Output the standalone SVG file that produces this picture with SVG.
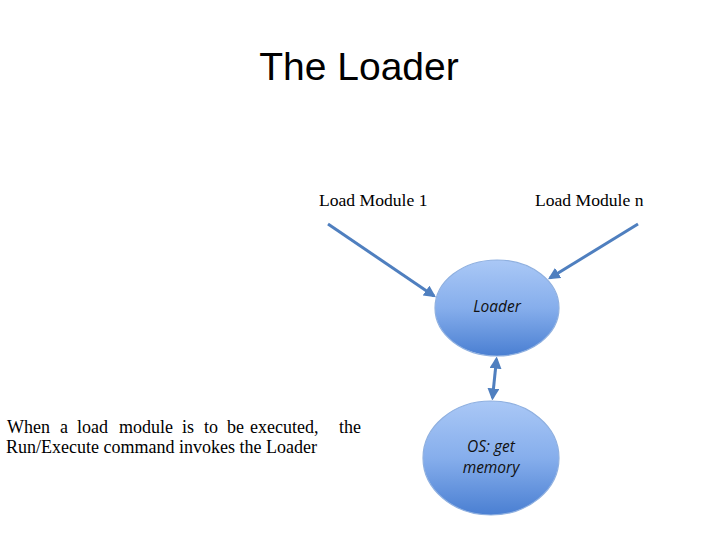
<svg xmlns="http://www.w3.org/2000/svg" width="720" height="540" viewBox="0 0 720 540">
<style>
.title{font-family:"Liberation Sans",Arial,sans-serif;font-size:39px;fill:#000}
.tnr{font-family:"Liberation Serif","Times New Roman",serif;font-size:17.6px;fill:#000}
.desc{font-size:18px}
.lbl{font-family:"Open Sans","Liberation Sans",sans-serif;font-size:15.5px;font-style:italic;fill:#111}
.node{fill:url(#g);stroke:#8fb0e0;stroke-width:1.2}
.conn{stroke:#4f7fbf;stroke-width:3;fill:none}
</style>
<defs>
<linearGradient id="g" x1="0" y1="0" x2="0" y2="1">
<stop offset="0" stop-color="#aac8f6"/>
<stop offset="0.5" stop-color="#86aeec"/>
<stop offset="1" stop-color="#4a7fd2"/>
</linearGradient>
<marker id="ah" viewBox="0 0 10 10" refX="8" refY="5" markerWidth="4" markerHeight="4" orient="auto-start-reverse">
<path d="M0,0 L10,5 L0,10 Z" fill="#4f7fbf"/>
</marker>
</defs>
<rect width="720" height="540" fill="#fff"/>
<text class="title" x="359" y="80" text-anchor="middle">The Loader</text>
<g id="lm1"><text class="tnr" x="319" y="206">Load Module 1</text></g>
<g id="lmn"><text class="tnr" x="535" y="206">Load Module n</text></g>
<g id="desc">
<text class="tnr desc" y="433"><tspan x="7">When</tspan><tspan x="60">a</tspan><tspan x="77">load</tspan><tspan x="119">module</tspan><tspan x="182">is</tspan><tspan x="204">to</tspan><tspan x="227">be</tspan><tspan x="250">executed,</tspan><tspan x="339">the</tspan></text>
<text class="tnr desc" x="6" y="453">Run/Execute command invokes the Loader</text>
</g>
<g id="loader">
<ellipse class="node" cx="497" cy="308" rx="62" ry="48"/>
<text class="lbl" x="497" y="312" text-anchor="middle">Loader</text>
</g>
<g id="os">
<ellipse class="node" cx="491" cy="458" rx="68" ry="57"/>
<text class="lbl" x="491" y="452" text-anchor="middle">OS: get</text>
<text class="lbl" x="491" y="473" text-anchor="middle">memory</text>
</g>
<g id="connectors">
<line class="conn" x1="328" y1="224" x2="434" y2="296" marker-end="url(#ah)"/>
<line class="conn" x1="638" y1="224" x2="550" y2="278" marker-end="url(#ah)"/>
<line class="conn" x1="496.5" y1="359" x2="492.5" y2="398" marker-start="url(#ah)" marker-end="url(#ah)"/>
</g>
</svg>
